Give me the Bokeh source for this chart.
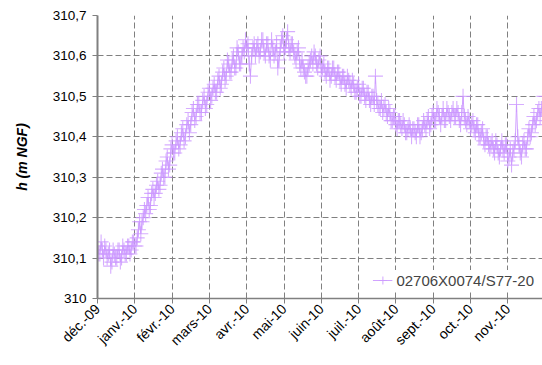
import pandas as pd
from bokeh.plotting import figure
from bokeh.models import Range1d, FixedTicker, CustomJSTickFormatter, Legend, LegendItem
from bokeh.embed import file_html
from bokeh.resources import INLINE

# --- data: readings on even days (from 1 Dec 2009) and odd days (from 2 Dec 2009) ---
series_name = "02706X0074/S77-20"
level_even = [
    310.13, 310.11, 310.12, 310.13, 310.10, 310.12, 310.09, 310.11, 310.10, 310.12, 310.10, 310.12, 310.11, 310.13, 310.12, 310.14,
    310.13, 310.17, 310.16, 310.20, 310.21, 310.25, 310.23, 310.27, 310.26, 310.29, 310.28, 310.32, 310.30, 310.35, 310.33, 310.38,
    310.36, 310.40, 310.38, 310.42, 310.40, 310.44, 310.43, 310.47, 310.45, 310.48, 310.46, 310.50, 310.48, 310.52, 310.50, 310.53,
    310.51, 310.55, 310.53, 310.57, 310.55, 310.58, 310.56, 310.60, 310.57, 310.61, 310.58, 310.62, 310.64, 310.63, 310.55, 310.62,
    310.60, 310.63, 310.61, 310.64, 310.60, 310.63, 310.59, 310.62, 310.61, 310.57, 310.62, 310.65, 310.62, 310.66, 310.61, 310.63,
    310.60, 310.61, 310.58, 310.59, 310.56, 310.55, 310.58, 310.60, 310.61, 310.58, 310.59, 310.56, 310.58, 310.55, 310.57, 310.55,
    310.57, 310.54, 310.56, 310.53, 310.55, 310.52, 310.54, 310.52, 310.53, 310.51, 310.53, 310.50, 310.52, 310.49, 310.51, 310.48,
    310.50, 310.55, 310.48, 310.47, 310.46, 310.48, 310.45, 310.46, 310.44, 310.45, 310.42, 310.44, 310.42, 310.43, 310.41, 310.43,
    310.40, 310.42, 310.40, 310.43, 310.41, 310.44, 310.42, 310.45, 310.43, 310.46, 310.44, 310.46, 310.43, 310.47, 310.44, 310.46,
    310.44, 310.47, 310.45, 310.46, 310.43, 310.50, 310.44, 310.45, 310.42, 310.44, 310.41, 310.43, 310.40, 310.42, 310.38, 310.40,
    310.37, 310.39, 310.36, 310.38, 310.35, 310.39, 310.36, 310.38, 310.35, 310.33, 310.37, 310.48, 310.38, 310.35, 310.39, 310.37,
    310.42, 310.41, 310.45, 310.44, 310.47, 310.47, 310.50,
]
level_odd = [
    310.11, 310.14, 310.10, 310.12, 310.11, 310.08, 310.12, 310.10, 310.12, 310.09, 310.13, 310.11, 310.13, 310.11, 310.14, 310.13,
    310.15, 310.19, 310.19, 310.22, 310.23, 310.22, 310.26, 310.25, 310.28, 310.27, 310.31, 310.30, 310.34, 310.32, 310.37, 310.36,
    310.39, 310.37, 310.41, 310.39, 310.43, 310.41, 310.46, 310.44, 310.48, 310.46, 310.49, 310.47, 310.51, 310.49, 310.52, 310.51,
    310.54, 310.52, 310.56, 310.54, 310.59, 310.56, 310.59, 310.57, 310.62, 310.58, 310.60, 310.61, 310.62, 310.58, 310.60, 310.63,
    310.62, 310.60, 310.64, 310.61, 310.63, 310.60, 310.64, 310.60, 310.63, 310.59, 310.64, 310.61, 310.64, 310.62, 310.63, 310.61,
    310.59, 310.62, 310.57, 310.57, 310.55, 310.57, 310.59, 310.58, 310.60, 310.57, 310.60, 310.57, 310.56, 310.57, 310.54, 310.57,
    310.55, 310.56, 310.54, 310.55, 310.53, 310.55, 310.53, 310.54, 310.51, 310.52, 310.50, 310.52, 310.50, 310.51, 310.49, 310.50,
    310.48, 310.49, 310.47, 310.49, 310.47, 310.46, 310.47, 310.44, 310.45, 310.43, 310.44, 310.43, 310.44, 310.41, 310.42, 310.42,
    310.42, 310.41, 310.43, 310.40, 310.42, 310.43, 310.44, 310.42, 310.45, 310.44, 310.47, 310.45, 310.45, 310.44, 310.47, 310.45,
    310.46, 310.45, 310.47, 310.44, 310.46, 310.45, 310.43, 310.44, 310.43, 310.42, 310.43, 310.40, 310.41, 310.39, 310.40, 310.38,
    310.38, 310.37, 310.39, 310.36, 310.37, 310.37, 310.38, 310.34, 310.37, 310.36, 310.39, 310.40, 310.36, 310.38, 310.37, 310.40,
    310.40, 310.43, 310.43, 310.46, 310.45, 310.48,
]
month_labels = ["déc.-09", "janv.-10", "févr.-10", "mars-10", "avr.-10", "mai-10",
                "juin-10", "juil.-10", "août-10", "sept.-10", "oct.-10", "nov.-10"]
y_ticks = [310.0, 310.1, 310.2, 310.3, 310.4, 310.5, 310.6, 310.7]
y_tick_labels = ["310", "310,1", "310,2", "310,3", "310,4", "310,5", "310,6", "310,7"]
y_title = "h (m NGF)"

df = pd.concat([
    pd.DataFrame({"date": pd.date_range("2009-12-01", periods=len(level_even), freq="2D"), "h": level_even}),
    pd.DataFrame({"date": pd.date_range("2009-12-02", periods=len(level_odd), freq="2D"), "h": level_odd}),
]).sort_values("date").reset_index(drop=True)
d = df["date"].dt
# month axis: each month gets an equal width (as in the reference)
df["xpos"] = (d.year - 2009) * 12 + d.month - 12 + (d.day - 1) / d.days_in_month

FONT = "Liberation Sans"
GRAY = "#808080"
COLOR = "#CC99FF"

p = figure(width=542, height=365, output_backend="svg", toolbar_location=None,
           x_range=Range1d(0, 11.93), y_range=Range1d(310, 310.7),
           min_border_left=97, min_border_right=0, min_border_top=15, min_border_bottom=67)
p.outline_line_color = None
p.background_fill_color = "white"
p.border_fill_color = "white"

r_line = p.line(df["xpos"], df["h"], line_color=COLOR, line_width=1, line_alpha=0.9)
r_pts = p.scatter(df["xpos"], df["h"], marker="cross", size=15, line_color=COLOR, line_width=1.1, line_alpha=0.8)

xt = FixedTicker(ticks=list(range(len(month_labels))))
p.xaxis.ticker = xt
p.xgrid.ticker = xt
p.xaxis.formatter = CustomJSTickFormatter(args=dict(labels=month_labels),
                                          code="return labels[Math.round(tick)] || '';")
p.xaxis.major_label_orientation = 0.785398

yt = FixedTicker(ticks=y_ticks)
p.yaxis.ticker = yt
p.ygrid.ticker = yt
p.yaxis.formatter = CustomJSTickFormatter(args=dict(labels=y_tick_labels),
                                          code="return labels[Math.round((tick - 310) * 10)] || '';")

for ax in (p.xaxis[0], p.yaxis[0]):
    ax.axis_line_color = GRAY
    ax.major_tick_line_color = GRAY
    ax.major_tick_out = 5
    ax.major_tick_in = 0
    ax.minor_tick_line_color = None
    ax.major_label_text_font = FONT
    ax.major_label_text_font_size = "13.5px"
    ax.major_label_text_color = "black"
p.xaxis.major_label_text_font_size = "14px"
p.yaxis.axis_line_width = 2
p.xaxis.axis_line_width = 1.5
p.yaxis.major_label_standoff = 6
p.xaxis.major_label_standoff = 3

p.yaxis.axis_label = y_title
p.yaxis.axis_label_text_font = FONT
p.yaxis.axis_label_text_font_style = "bold italic"
p.yaxis.axis_label_text_font_size = "14px"
p.yaxis.axis_label_text_color = "black"
p.yaxis.axis_label_standoff = 20

for g in (p.xgrid[0], p.ygrid[0]):
    g.grid_line_color = GRAY
    g.grid_line_dash = "6 3"
    g.grid_line_width = 1

legend = Legend(items=[LegendItem(label=series_name, renderers=[r_line, r_pts])],
                location="bottom_right")
legend.border_line_color = None
legend.background_fill_color = "white"
legend.background_fill_alpha = 1
legend.label_text_font = FONT
legend.label_text_font_size = "15px"
legend.glyph_width = 20
legend.label_standoff = 4
legend.padding = 3
legend.margin = 8
legend.spacing = 0
p.add_layout(legend)

open("out.html", "w").write(file_html(p, INLINE))
